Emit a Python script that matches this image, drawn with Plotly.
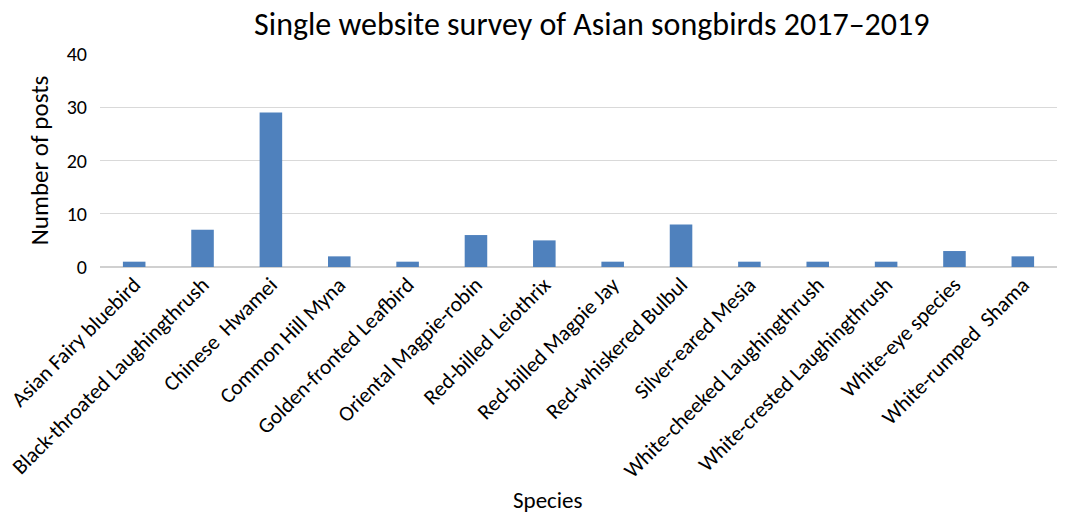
import plotly.graph_objects as go

species = [
    "Asian Fairy bluebird",
    "Black-throated Laughingthrush",
    "Chinese\u00a0 Hwamei",
    "Common Hill Myna",
    "Golden-fronted Leafbird",
    "Oriental Magpie-robin",
    "Red-billed Leiothrix",
    "Red-billed Magpie Jay",
    "Red-whiskered Bulbul",
    "Silver-eared Mesia",
    "White-cheeked Laughingthrush",
    "White-crested Laughingthrush",
    "White-eye species",
    "White-rumped\u00a0 Shama",
]
posts = [1, 7, 29, 2, 1, 6, 5, 1, 8, 1, 1, 1, 3, 2]
y_ticks = [0, 10, 20, 30, 40]

FONT = "Carlito, Lato, 'Open Sans', sans-serif"

fig = go.Figure(
    go.Bar(x=species, y=posts, marker=dict(color="#4f81bd", line=dict(width=0)), width=0.33)
)
fig.update_layout(
    width=1074, height=515,
    margin=dict(l=100, r=17, t=54, b=248),
    paper_bgcolor="white", plot_bgcolor="white",
    font=dict(family=FONT, color="#000000"),
    title=dict(text="Single website survey of Asian songbirds 2017\u20132019",
               x=0.551, xanchor="center", y=0.953, yanchor="middle",
               font=dict(size=32, family=FONT, color="#000000")),
    showlegend=False,
    annotations=[dict(text="Species", xref="paper", yref="paper",
                      x=(548 - 100) / 957, y=-(500 - 267) / 213,
                      xanchor="center", yanchor="middle", showarrow=False,
                      font=dict(size=23, family=FONT, color="#000000"))],
)
fig.update_xaxes(
    tickangle=-45, tickfont=dict(size=21.5, family=FONT),
    showline=False, showgrid=False, ticks="", automargin=False,
)
fig.update_yaxes(
    range=[0, 40], tickvals=y_ticks, tickfont=dict(size=20, family=FONT),
    showgrid=True, gridcolor="#d9d9d9", gridwidth=1,
    zeroline=True, zerolinecolor="#d0d0d0", zerolinewidth=2,
    showline=False, ticks="", ticklabelstandoff=12, automargin=False,
    title=dict(text="Number of posts", font=dict(size=25, family=FONT), standoff=10),
)
fig.write_html("out.html")
